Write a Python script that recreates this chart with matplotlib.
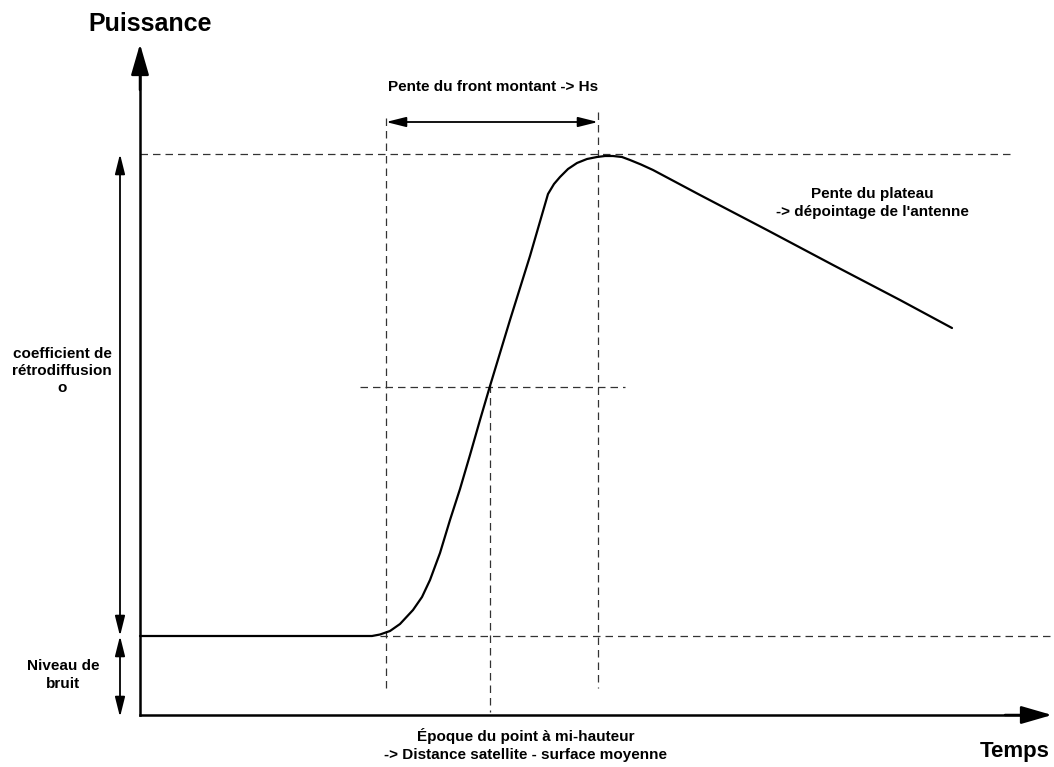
import matplotlib
matplotlib.use("Agg")
import matplotlib.pyplot as plt
from matplotlib import font_manager

# Waveform (time, power), in picture units
wave_t = [140, 300, 365, 372, 380, 390, 400, 413, 422, 430, 440, 450, 460, 470, 480, 490, 510, 530, 548,
          554, 560, 568, 577, 587, 597, 605, 613, 622, 630, 641, 653, 700, 767, 833, 900, 952]
wave_p = [636, 636, 636, 636, 634.5, 631, 624, 610, 597, 580, 553, 520, 489, 455, 420, 386, 320, 256, 194,
          184, 177, 169, 163, 159, 157, 156, 156, 157, 160, 164.5, 170, 195, 230, 265, 300, 328]

noise_level = 636
peak_level = 154
half_level = 387
t_front_start = 386
t_half = 490
t_peak = 598

labels = {
    "ylabel": "Puissance",
    "xlabel": "Temps",
    "front": "Pente du front montant -> Hs",
    "plateau": "Pente du plateau\n-> dépointage de l'antenne",
    "sigma": "coefficient de\nrétrodiffusion\no",
    "noise": "Niveau de\nbruit",
    "epoch": "Époque du point à mi-hauteur\n-> Distance satellite - surface moyenne",
}

avail = {f.name for f in font_manager.fontManager.ttflist}
fam = "Liberation Sans Narrow" if "Liberation Sans Narrow" in avail else "Liberation Sans"

W, H = 1054, 767
fig = plt.figure(figsize=(W / 100, H / 100), dpi=100)
ax = fig.add_axes([0, 0, 1, 1])
ax.set_xlim(0, W)
ax.set_ylim(H, 0)
ax.axis("off")

dash = dict(color="#333333", lw=0.9, ls=(0, (6, 4)))
# dashed guides
ax.plot([140, 1010], [peak_level, peak_level], **dash)
ax.plot([380, 1050], [noise_level, noise_level], **dash)
ax.plot([360, 625], [half_level, half_level], **dash)
ax.plot([t_front_start, t_front_start], [118, 688], **dash)
ax.plot([t_peak, t_peak], [112, 688], **dash)
ax.plot([t_half, t_half], [385, 712], **dash)

# axes with arrows
ax.plot([140, 140], [715, 75], color="black", lw=1.8)
ax.plot([140, 1030], [715, 715], color="black", lw=1.8)
ax.annotate("", xy=(140, 44), xytext=(140, 90),
            arrowprops=dict(arrowstyle="-|>,head_length=1.9,head_width=0.55", color="black", lw=1.8, shrinkA=0, shrinkB=0))
ax.annotate("", xy=(1052, 715), xytext=(1005, 715),
            arrowprops=dict(arrowstyle="-|>,head_length=1.9,head_width=0.55", color="black", lw=1.8, shrinkA=0, shrinkB=0))

# waveform
ax.plot(wave_t, wave_p, color="black", lw=1.6, solid_capstyle="round", solid_joinstyle="round")

# double arrows
darrow = dict(arrowstyle="<|-|>,head_length=1.2,head_width=0.3", color="black", lw=1.3, shrinkA=0, shrinkB=0)
ax.annotate("", xy=(t_front_start, 122), xytext=(t_peak, 122), arrowprops=darrow)
ax.annotate("", xy=(120, peak_level), xytext=(120, noise_level), arrowprops=darrow)
ax.annotate("", xy=(120, noise_level), xytext=(120, 717), arrowprops=darrow)

tk = dict(fontfamily=fam, fontweight="bold", ha="center", va="center", color="black")
ax.text(150, 24, labels["ylabel"], fontsize=18, **tk)
ax.text(1015, 752, labels["xlabel"], fontsize=16, **tk)
ax.text(493, 87, labels["front"], fontsize=11, **tk)
ax.text(872, 203, labels["plateau"], fontsize=11, linespacing=1.35, **tk)
ax.text(62, 371, labels["sigma"], fontsize=11, linespacing=1.3, **tk)
ax.text(63, 675, labels["noise"], fontsize=11, linespacing=1.35, **tk)
ax.text(526, 745, labels["epoch"], fontsize=11, linespacing=1.35, **tk)

fig.savefig("out.png", dpi=100)
